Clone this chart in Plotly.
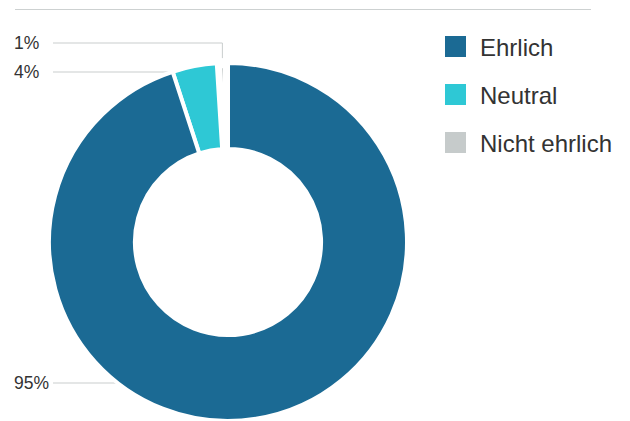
import math
import plotly.graph_objects as go

# Survey answers and their shares (percent)
categories = ["Ehrlich", "Neutral", "Nicht ehrlich"]
shares = [95, 4, 1]
colors = ["#1b6a94", "#2ec8d5", "#c6cbcb"]
share_labels = ["95%", "4%", "1%"]

# Canvas and layout constants (pixels)
W, H = 630, 421
PIE_BOX = (49, 63, 407, 421)          # left, top, right, bottom of the pie domain
HOLE = 0.52
LABEL_X = 12                          # left edge of the percentage labels
LEADER_X0 = 53                        # where the leader lines start
LABEL_ROWS = [383, 72, 43]            # vertical position of each percentage label
LEGEND_X, LEGEND_Y0, LEGEND_STEP, SWATCH = 445, 36, 48, 21
FONT = "Liberation Sans, Arial, Helvetica, sans-serif"
TEXT_COLOR = "#333333"
RULE_COLOR = "#cdd1d1"


def px(x):
    return x / W


def py(y):
    return 1 - y / H


left, top, right, bottom = PIE_BOX
R = min(right - left, bottom - top) / 2
cx, cy = (left + right) / 2, (top + bottom) / 2

total = sum(shares)

fig = go.Figure()

# The thin slice gets a wider white outline; it is drawn first so the
# neighbouring slices paint over the overflow of that outline.
# Plotly lays out the first counterclockwise slice to the right of the start
# angle, so the whole ring is turned back by that slice's angle.
order = list(range(len(categories)))[::-1]
line_widths = [4, 4, 10]
first_angle = shares[order[0]] / total * 360
fig.add_trace(go.Pie(
    labels=[categories[i] for i in order],
    values=[shares[i] for i in order],
    marker=dict(colors=[colors[i] for i in order],
                line=dict(color="white", width=[line_widths[i] for i in order])),
    hole=HOLE,
    sort=False,
    direction="counterclockwise",
    rotation=-first_angle,
    textinfo="none",
    hoverinfo="label+percent",
    showlegend=False,
    domain=dict(x=[px(left), px(right)], y=[py(bottom), py(top)]),
))

shapes = []
annotations = []

# Horizontal rule at the top
shapes.append(dict(type="line", xref="paper", yref="paper",
                   x0=px(15), x1=px(591), y0=py(9.5), y1=py(9.5),
                   line=dict(color=RULE_COLOR, width=1)))

# Slice angles measured clockwise from 12 o'clock
spans = []
acc = 0.0
for v in shares:
    a0 = acc / total * 360
    acc += v
    spans.append((a0, acc / total * 360))

for i, (a0, a1) in enumerate(spans):
    y = LABEL_ROWS[i]
    dy_up = cy - y
    path = None
    if abs(dy_up) < R:
        dx = -math.sqrt(R * R - dy_up * dy_up)
        theta = math.degrees(math.atan2(dx, dy_up)) % 360
        if a0 <= theta <= a1:
            xe = cx + dx
            path = f"M {px(LEADER_X0)},{py(y)} L {px(xe)},{py(y)}"
    if path is None:
        mid = math.radians((a0 + a1) / 2)
        ax = cx + R * math.sin(mid)
        ay = cy - R * math.cos(mid)
        path = (f"M {px(LEADER_X0)},{py(y)} L {px(ax)},{py(y)} "
                f"L {px(ax)},{py(ay)}")
    shapes.append(dict(type="path", xref="paper", yref="paper", path=path,
                       line=dict(color="#c9cdcd", width=1), layer="below"))
    annotations.append(dict(x=px(LABEL_X), y=py(y), xref="paper", yref="paper",
                            text=share_labels[i], showarrow=False,
                            xanchor="left", yanchor="middle",
                            font=dict(family=FONT, size=17.5, color=TEXT_COLOR)))

# Legend: colour swatch plus category name
for i, name in enumerate(categories):
    y0 = LEGEND_Y0 + i * LEGEND_STEP
    shapes.append(dict(type="rect", xref="paper", yref="paper",
                       x0=px(LEGEND_X), x1=px(LEGEND_X + SWATCH),
                       y0=py(y0), y1=py(y0 + SWATCH),
                       fillcolor=colors[i], line=dict(width=0)))
    annotations.append(dict(x=px(LEGEND_X + SWATCH + 12), y=py(y0 + SWATCH / 2 + 1),
                            xref="paper", yref="paper", text=name,
                            showarrow=False, xanchor="left", yanchor="middle",
                            font=dict(family=FONT, size=24, color=TEXT_COLOR)))

fig.update_layout(
    width=W, height=H,
    margin=dict(l=0, r=0, t=0, b=0),
    paper_bgcolor="white", plot_bgcolor="white",
    shapes=shapes, annotations=annotations,
    showlegend=False,
)

fig.write_html("out.html")
